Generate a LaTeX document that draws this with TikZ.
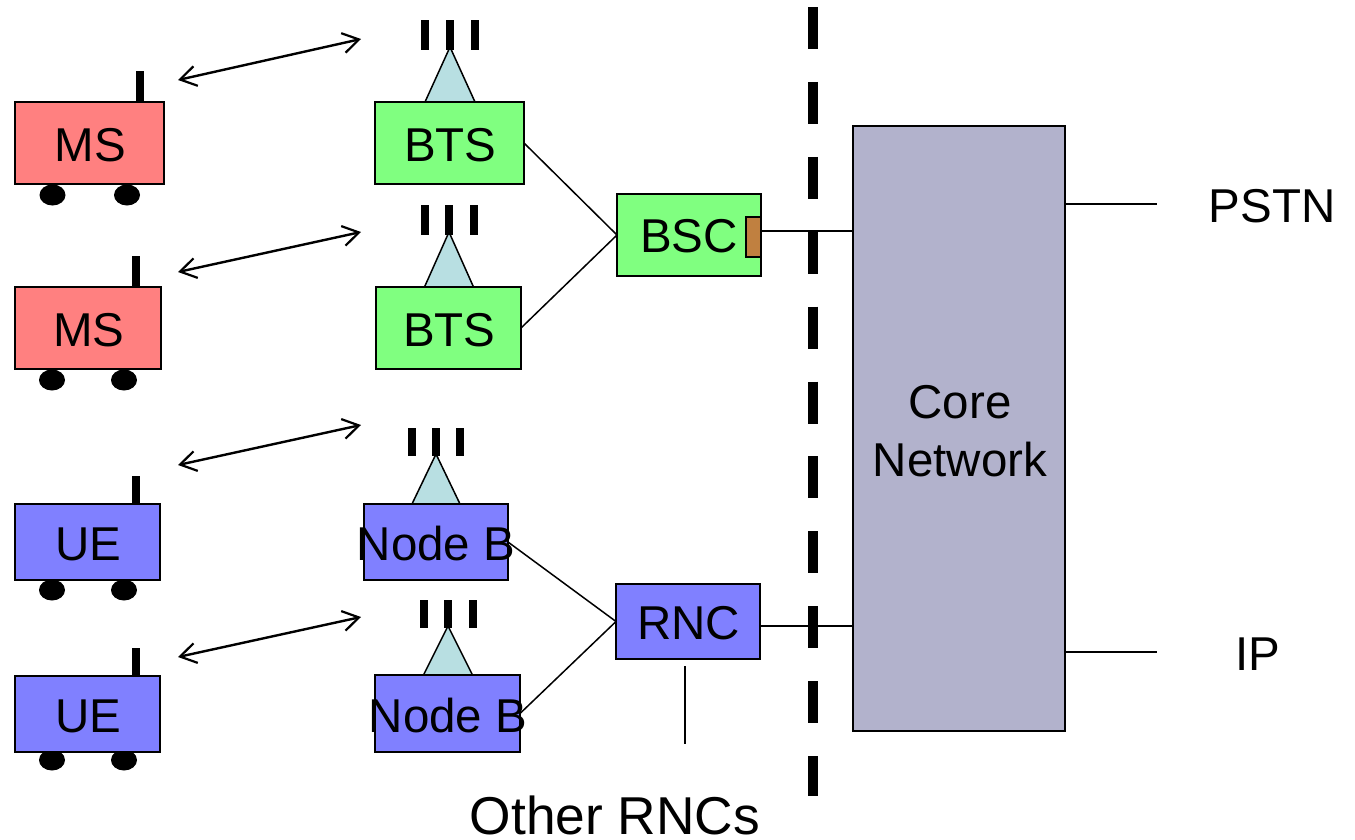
\documentclass[tikz,border=0pt]{standalone}
\usepackage{fontspec}
\setmainfont{Liberation Sans}
\usetikzlibrary{arrows.meta,shapes.geometric}
\definecolor{msred}{HTML}{FF8080}
\definecolor{btsgreen}{HTML}{80FF80}
\definecolor{ueblue}{HTML}{8080FF}
\definecolor{coregrey}{HTML}{B2B2CC}
\definecolor{conecol}{HTML}{B8DFE2}
\definecolor{portcol}{HTML}{C08040}
\newcommand{\labelfont}{\fontsize{47.5}{58}\selectfont}
\newcommand{\rect}[7]{% name, x1, y1, x2, y2, style, text
  \node[unitbox,#6,minimum width={(#4-#2)*1pt},minimum height={(#5-#3)*1pt}] (#1) at ({(#2+#4)/2},{(#3+#5)/2}) {\hspace{1.6pt}#7};}
% mobile: name, antenna x, antenna top, wheel 1 x, wheel 2 x, wheel y
\newcommand{\mobile}[6]{%
  \draw[antenna] (#2,#3) -- (#2,#3+31) ;
  \node[wheel] (#1w1) at (#4,#6) {};
  \node[wheel] (#1w2) at (#5,#6) {};}
% mast: apex x, bars top, apex y, base y, half width, bar length
\newcommand{\mast}[6]{%
  \draw[cone] (#1-#5,#4) -- (#1,#3) -- (#1+#5,#4) -- cycle;
  \draw[bar] (#1-#5,#2) -- (#1-#5,#2+#6);
  \draw[bar] (#1,#2) -- (#1,#2+#6);
  \draw[bar] (#1+#5,#2) -- (#1+#5,#2+#6);}
\tikzset{
  unitbox/.style={draw=black,line width=1.5pt,inner sep=0pt,outer sep=0pt,font=\labelfont,text height=36.5pt},
  txt/.style={inner sep=0pt,outer sep=0pt,font=\labelfont,align=center},
  antenna/.style={line width=7.5pt,black},
  wheel/.style={ellipse,fill=black,draw=none,minimum width=26pt,minimum height=21pt,inner sep=0pt},
  cone/.style={draw=black,line width=1.5pt,fill=conecol,line join=miter},
  bar/.style={line width=8pt,black},
  link/.style={draw=black,line width=1.5pt},
  radio/.style={draw=black,line width=2.4pt,{Straight Barb[length=16pt,width=20pt,line width=2.2pt]}-{Straight Barb[length=16pt,width=20pt,line width=2.2pt]}},
  boundary/.style={line width=10pt,black,dash pattern=on 42pt off 32.9pt}
}
\begin{document}
\begin{tikzpicture}[x=1pt,y=-1pt]
\useasboundingbox (0,0) rectangle (1355,839);
% antennas and wheels lie behind the boxes
\mobile{ms1}{140}{71}{52.5}{127}{195}
\mobile{ms2}{136}{256}{52}{124}{380}
\draw[antenna] (136,476) -- (136,504);
\node[wheel] at (52,590) {}; \node[wheel] at (124,590) {};
\draw[antenna] (136,648) -- (136,676);
\node[wheel] at (52,760) {}; \node[wheel] at (124,760) {};
\mast{450}{20}{47}{102}{25}{30}
\mast{449}{205}{232}{287}{24.5}{30}
\mast{436}{428}{454}{504}{24}{28}
\mast{448}{600}{626}{675}{24.5}{28}
% dashed boundary
\coordinate (dashtop) at (813,7);
\coordinate (dashbot) at (813,796);
\draw[boundary] (dashtop) -- (dashbot);
% boxes
\rect{ms1}{15}{102}{164}{184}{fill=msred}{MS}
\rect{ms2}{15}{287}{161}{369}{fill=msred}{MS}
\rect{ue1}{15}{504}{160}{580}{fill=ueblue}{UE}
\rect{ue2}{15}{676}{160}{752}{fill=ueblue}{UE}
\rect{bts1}{375}{102}{524}{184}{fill=btsgreen}{BTS}
\rect{bts2}{376}{287}{521}{369}{fill=btsgreen}{BTS}
\rect{nb1}{364}{504}{508}{580}{fill=ueblue}{}
\rect{nb2}{375}{675}{520}{752}{fill=ueblue}{}
\rect{bsc}{617}{194}{761}{276}{fill=btsgreen}{}
\rect{port}{746}{217}{761}{257}{fill=portcol}{}
\rect{rnc}{616}{584}{760}{659}{fill=ueblue}{RNC}
\rect{core}{853}{126}{1065}{731}{fill=coregrey}{}
% labels
\node[txt] (nb1t) at (436,544) {Node B};
\node[txt] (nb2t) at (448,716) {Node B};
\node[txt] (bsct) at (689,236) {BSC};
\node[txt] (coret) at (960,431.5) {Core\\Network};
\node[txt] (pstn) at (1272,206) {PSTN};
\node[txt] (ip) at (1258,654) {IP};
\node[txt,font=\fontsize{53.3}{60}\selectfont] (other) at (615,815) {Other RNCs};
% connectors
\draw[link] (bts1.east) -- (bsc.west);
\draw[link] (bts2.east) -- (bsc.west);
\draw[link] (nb1.east) -- (rnc.west);
\draw[link] (nb2.east) -- (rnc.west);
\coordinate (bscy) at (0,231);
\coordinate (rncy) at (0,626);
\coordinate (pstny) at (0,204);
\coordinate (ipy) at (0,652);
\coordinate (pstnend) at (1157,204);
\coordinate (ipend) at (1157,652);
\coordinate (othertop) at (685,666);
\coordinate (otherbot) at (685,744);
\draw[link] (bsc.east |- bscy) -- (core.west |- bscy);
\draw[link] (rnc.east |- rncy) -- (core.west |- rncy);
\draw[link] (core.east |- pstny) -- (pstnend);
\draw[link] (core.east |- ipy) -- (ipend);
\draw[link] (othertop) -- (otherbot);
% radio links
\coordinate (r1a) at (178,80); \coordinate (r1b) at (361,39);
\coordinate (r2a) at (178,272); \coordinate (r2b) at (361,232);
\coordinate (r3a) at (178,465); \coordinate (r3b) at (361,425);
\coordinate (r4a) at (178,657); \coordinate (r4b) at (361,617);
\draw[radio] (r1a) -- (r1b);
\draw[radio] (r2a) -- (r2b);
\draw[radio] (r3a) -- (r3b);
\draw[radio] (r4a) -- (r4b);
\end{tikzpicture}
\end{document}
